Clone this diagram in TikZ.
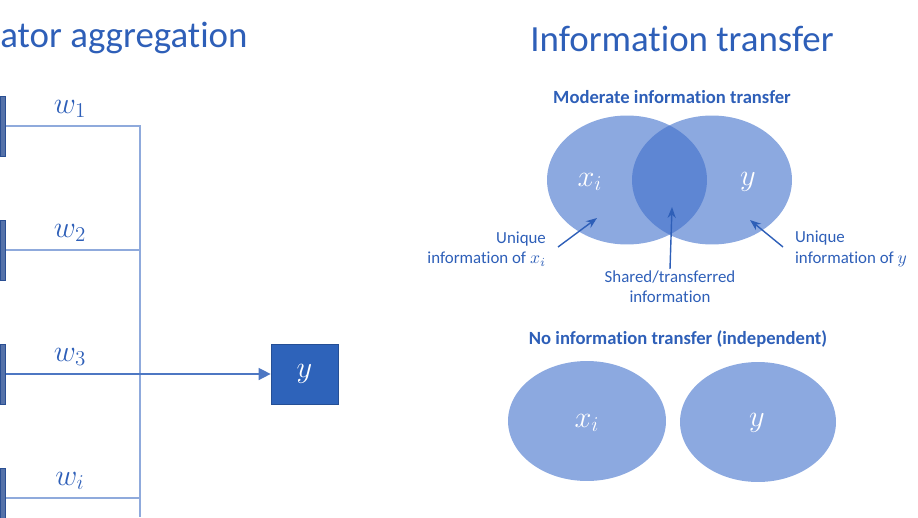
\documentclass[tikz,border=0pt]{standalone}
\usepackage{amsmath,amssymb}
\usepackage{xcolor}
\usepackage{fontspec}
\setmainfont{Carlito}[Ligatures=NoCommon]
\usepackage{tikz}
\usetikzlibrary{positioning,arrows.meta,calc,shapes.geometric}
\definecolor{inkblue}{HTML}{2E5FB8}
\definecolor{darkbar}{HTML}{2A4F93}
\definecolor{wireblue}{HTML}{8FAADC}
\definecolor{boxblue}{HTML}{2E63BA}
\definecolor{blobblue}{HTML}{3F6FCB}
\tikzset{
  wire/.style={line width=0.7pt, color=wireblue},
  feed/.style={-{Triangle[length=2.4mm, width=2.4mm]}, line width=0.8pt, color=inkblue!85},
  pointer/.style={-{Stealth[length=2.2mm]}, line width=0.8pt, color=inkblue},
  srcbar/.style={rectangle, draw=darkbar, fill=darkbar!80, minimum width=3pt, minimum height=1.2cm, inner sep=0pt, anchor=west},
  outbox/.style={rectangle, draw=boxblue!80!black, fill=boxblue, minimum width=1.34cm, minimum height=1.2cm, text=white, font=\fontsize{17}{20}\selectfont},
  blob/.style={ellipse, fill=blobblue, fill opacity=0.6, text opacity=1, inner sep=0pt},
  mathlab/.style={text=white, font=\fontsize{17}{20}\selectfont},
  weight/.style={text=inkblue, font=\fontsize{17}{20}\selectfont},
  note/.style={font=\fontsize{9.6}{11.5}\selectfont, text=inkblue, align=center, inner sep=1pt},
  head/.style={font=\fontsize{21}{24}\selectfont, text=inkblue, inner sep=0pt},
  subhead/.style={font=\bfseries\fontsize{10.6}{12}\selectfont, text=inkblue, inner sep=0pt}
}
\begin{document}
\begin{tikzpicture}[x=0.02cm, y=-0.02cm, >=Stealth]
\useasboundingbox (0,0) rectangle (918,517);
% left: weighted aggregation
\node[head, anchor=west] (lefttitle) at (0,38) {ator aggregation};
\coordinate (busend) at (140,517);
\foreach \i/\yy/\lab in {1/126/w_1, 2/250/w_2, 3/374/w_3, 4/498/w_i} {
  \node[srcbar] (src\i) at (0,\yy) {};
  \coordinate (bus\i) at (140,\yy);
  \node[weight] (w\i) at (70,\yy-17) {$\lab$};
}
\node[outbox] (out) at (304.5,374) {$y$};
\draw[wire] (src1.east) -- (bus1) -- (busend);
\draw[wire] (src2.east) -- (bus2);
\draw[wire] (src4.east) -- (bus4);
\draw[feed] (src3.east) -- (out.west);
% right: information transfer
\node[head] (righttitle) at (682,39) {Information transfer};
\node[subhead] (modtitle) at (672,97) {Moderate information transfer};
\node[blob, minimum width=3.2cm, minimum height=2.58cm] (xa) at (627,180) {};
\node[blob, minimum width=3.2cm, minimum height=2.58cm] (ya) at (712,180) {};
\node[mathlab] (xalab) at (590,182) {$x_i$};
\node[mathlab] (yalab) at (748,182) {$y$};
\node[note, align=right, anchor=east] (uniqx) at (548,249) {Unique\\information of $x_i$};
\node[note, align=left, anchor=west] (uniqy) at (793,249) {Unique\\information of $y$};
\node[note] (shared) at (670,287) {Shared/transferred\\information};
\coordinate (tipx) at (597,218);
\coordinate (tipy) at (750,220);
\coordinate (tipshared) at (672,207);
\draw[pointer] (uniqx.east) ++(10,-2) -- (tipx);
\draw[pointer] (uniqy.west) ++(-10,-2) -- (tipy);
\draw[pointer] (shared.north) -- (tipshared);
\node[subhead] (indtitle) at (678,339) {No information transfer (independent)};
\node[blob, minimum width=3.16cm, minimum height=2.4cm] (xb) at (587,421) {};
\node[blob, minimum width=3.12cm, minimum height=2.4cm] (yb) at (758,422) {};
\node[mathlab] (xblab) at (587,423) {$x_i$};
\node[mathlab] (yblab) at (757,423) {$y$};
\end{tikzpicture}
\end{document}
